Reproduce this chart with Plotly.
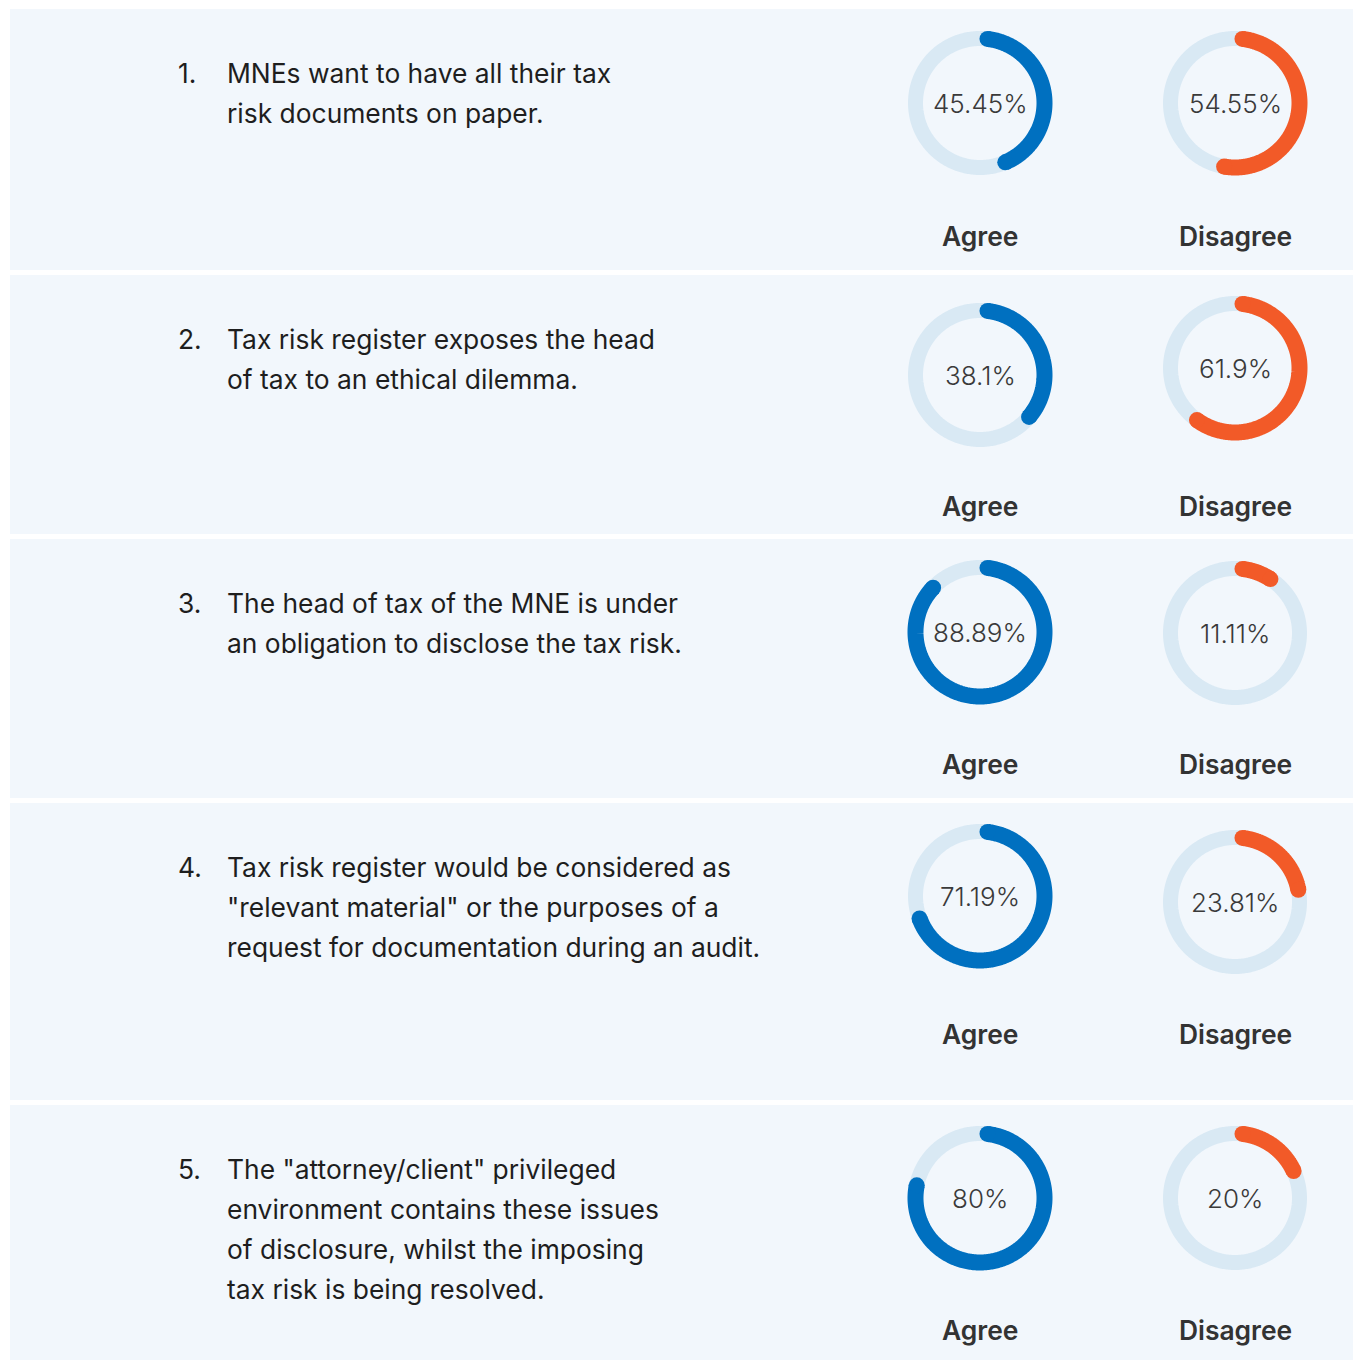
import numpy as np
import plotly.graph_objects as go

# ---- survey data -------------------------------------------------------
statements = [
    ["MNEs want to have all their tax", "risk documents on paper."],
    ["Tax risk register exposes the head", "of tax to an ethical dilemma."],
    ["The head of tax of the MNE is under", "an obligation to disclose the tax risk."],
    ["Tax risk register would be considered as",
     "\"relevant material\" or the purposes of a",
     "request for documentation during an audit."],
    ["The \"attorney/client\" privileged", "environment contains these issues",
     "of disclosure, whilst the imposing", "tax risk is being resolved."],
]
agree = [45.45, 38.1, 88.89, 71.19, 80]
disagree = [54.55, 61.9, 11.11, 23.81, 20]
labels = ["Agree", "Disagree"]

# ---- layout (pixels) ---------------------------------------------------
W, H = 1353, 1360
panel_top = [9, 275, 539, 803, 1105]
panel_bot = [270, 534, 798, 1100, 1360]
ring_x = [980, 1235]
ring_y = [(103, 103), (375, 368), (632, 633), (896, 902), (1198, 1198)]
label_y = [236, 506, 764, 1034, 1330]
R = 64.5
STROKE = 15

PANEL = "#f2f7fc"
TRACK = "#d9e9f4"
COLORS = ["#0070c0", "#f25a28"]
TEXT = "#1e1e1e"
FONT = "Inter"

fig = go.Figure()
shapes = []
annotations = []

for i in range(len(statements)):
    shapes.append(dict(type="rect", layer="below", x0=10, x1=W, y0=panel_top[i],
                       y1=panel_bot[i], fillcolor=PANEL, line=dict(width=0)))

    # numbered statement
    y0 = panel_top[i] + 64
    annotations.append(dict(x=176, y=y0, text=f"{i + 1}.", showarrow=False,
                            xanchor="left", yanchor="middle",
                            font=dict(family=FONT, size=26.4, color=TEXT, weight=400)))
    for j, line in enumerate(statements[i]):
        annotations.append(dict(x=225, y=y0 + 40 * j, text=line, showarrow=False,
                                xanchor="left", yanchor="middle",
                                font=dict(family=FONT, size=26.4, color=TEXT, weight=400)))

    for k, val in enumerate((agree[i], disagree[i])):
        cx, cy = ring_x[k], ring_y[i][k]
        # background track (full circle)
        full = np.radians(np.linspace(0, 360, 361))
        fig.add_trace(go.Scatter(x=cx + R * np.sin(full), y=cy - R * np.cos(full),
                                 mode="lines", hoverinfo="skip",
                                 line=dict(color=TRACK, width=STROKE, simplify=False)))
        # value arc, clockwise from 12 o'clock, with rounded ends kept inside the span
        cap = np.degrees(STROKE / 2 / R)
        end = val / 100 * 360
        t = np.radians(np.linspace(cap, max(end - cap, cap), 300))
        xs = cx + R * np.sin(t)
        ys = cy - R * np.cos(t)
        fig.add_trace(go.Scatter(x=xs, y=ys, mode="lines", hoverinfo="skip",
                                 line=dict(color=COLORS[k], width=STROKE + 1,
                                           simplify=False)))
        fig.add_trace(go.Scatter(x=[xs[0], xs[-1]], y=[ys[0], ys[-1]], mode="markers",
                                 hoverinfo="skip",
                                 marker=dict(color=COLORS[k], size=STROKE + 1,
                                             line=dict(width=0))))
        annotations.append(dict(x=cx, y=cy, text=f"{val:g}%", showarrow=False,
                                xanchor="center", yanchor="middle",
                                font=dict(family=FONT, size=26, color="#3a3a3a",
                                          weight=300)))
        annotations.append(dict(x=cx, y=label_y[i], text=labels[k], showarrow=False,
                                xanchor="center", yanchor="middle",
                                font=dict(family=FONT, size=26.4, color="#333333",
                                          weight=600)))

fig.update_layout(
    width=W, height=H, margin=dict(l=0, r=0, t=0, b=0),
    paper_bgcolor="white", plot_bgcolor="white", showlegend=False,
    xaxis=dict(range=[0, W], visible=False, fixedrange=True),
    yaxis=dict(range=[H, 0], visible=False, fixedrange=True),
    shapes=shapes, annotations=annotations,
)

fig.write_html("out.html", config={"displayModeBar": False})
